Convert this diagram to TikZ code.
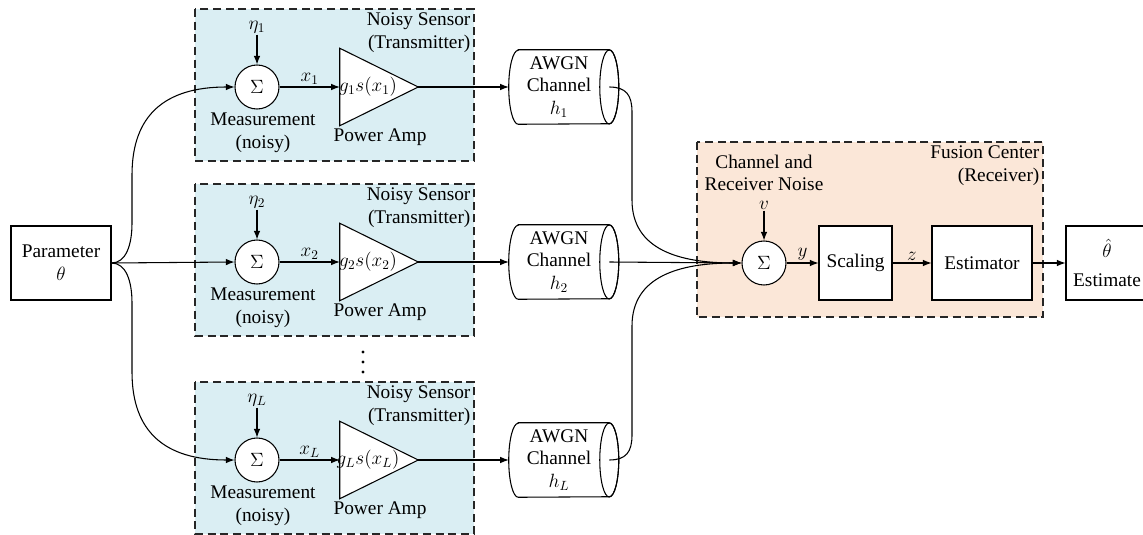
\documentclass[tikz,border=0pt]{standalone}
\usepackage{fontspec}
\setmainfont{Liberation Serif}
\newfontfamily\diagfont{Liberation Serif}
\usetikzlibrary{arrows.meta,calc}
\definecolor{sensorblue}{HTML}{DAEEF3}
\definecolor{fusionpeach}{HTML}{FBE7D8}
\tikzset{
  every node/.style={font=\diagfont\fontsize{14.5}{17}\selectfont},
  arr/.style={-{Latex[length=6.5pt,width=5pt]}, line width=0.8pt},
  plain/.style={line width=0.8pt},
  sensorbox/.style={draw=black!85, fill=sensorblue, dash pattern=on 6pt off 3.5pt, line width=0.8pt},
  fusionbox/.style={draw=black!85, fill=fusionpeach, dash pattern=on 6pt off 3.5pt, line width=0.8pt},
  sumnode/.style={circle, draw, fill=white, minimum size=33pt, inner sep=0pt, line width=0.8pt},
  blk/.style={rectangle, draw, fill=white, line width=0.8pt, align=center, minimum height=55.5pt, inner sep=1pt},
  chbox/.style={rectangle, minimum width=75pt, minimum height=55.5pt, align=center, inner sep=0pt},
  ampbox/.style={rectangle, minimum width=58.5pt, minimum height=57.75pt, inner sep=0pt},
  lbl/.style={align=center, inner sep=1pt},
  boxtitle/.style={anchor=north east, align=right, inner sep=2.5pt},
}
\begin{document}
\begin{tikzpicture}[x=0.75pt,y=-0.75pt]
\useasboundingbox (0,0) rectangle (1143,535);
\clip (0,0) rectangle (1143,535);

% fusion center box
\draw[fusionbox] (697,142) rectangle (1043,317);
\node[boxtitle] (ftitle) at (1043,142) {Fusion Center\\(Receiver)};

% sensor branches
\foreach \k/\ty/\sub in {1/9/1, 2/184/2, L/382/L}{
  \pgfmathsetmacro{\cy}{\ty+78}
  \pgfmathsetmacro{\by}{\ty+152}
  \draw[sensorbox] (195,\ty) rectangle (474,\by);
  \node[boxtitle] (title\k) at (474,\ty) {Noisy Sensor\\(Transmitter)};
  \node[sumnode] (s\k) at (257,\cy) {$\Sigma$};
  \node[lbl] (eta\k) at (257,\cy-60) {$\eta_{\sub}$};
  \draw[arr] (eta\k.south) -- (s\k.north);
  \node[lbl] (meas\k) at (263,\cy+46) {Measurement\\(noisy)};
  \node[ampbox] (amp\k) at (379,\cy) {};
  \draw[plain, fill=white] (amp\k.north west) -- (amp\k.east) -- (amp\k.south west) -- cycle;
  \node[lbl] (g\k) at (368,\cy) {$g_{\sub}s(x_{\sub})$};
  \node[lbl] (pa\k) at (380,\cy+50) {Power Amp};
  \draw[arr] (s\k.east) -- node[above, inner sep=1.5pt] {$x_{\sub}$} (amp\k.west);
  % channel cylinder
  \node[chbox] (ch\k) at (559,\cy) {};
  \draw[plain, fill=white] ($(ch\k.north west)+(9.5,0)$) -- (ch\k.north east)
     arc[start angle=-90, end angle=90, x radius=9.5, y radius=37]
     -- ($(ch\k.south west)+(9.5,0)$)
     arc[start angle=90, end angle=270, x radius=9.5, y radius=37] -- cycle;
  \draw[plain] (ch\k.east) ellipse[x radius=9.5, y radius=37];
  \node[lbl] (cht\k) at (559,\cy) {AWGN\\Channel\\$h_{\sub}$};
  \draw[arr] (amp\k.east) -- (ch\k.west);
}

% dots
\foreach \yy in {352,362,372} \fill (363,\yy) circle[radius=1.6];

% parameter
\node[blk, minimum width=75pt] (par) at (61,263) {Parameter\\$\theta$};
\draw[arr] (par.east) .. controls (126,263) and (132,245) .. (132,223) -- (132,175)
   .. controls (132,115) and (165,87) .. (s1.west);
\draw[arr] (par.east) -- (s2.west);
\draw[arr] (par.east) .. controls (126,263) and (132,281) .. (132,303) -- (132,372)
   .. controls (132,432) and (165,460) .. (sL.west);

% fusion center
\node[sumnode] (sF) at (764,263) {$\Sigma$};
\node[lbl] (v) at (764,205) {$v$};
\draw[arr] (v.south) -- (sF.north);
\node[lbl] (cr) at (764,173) {Channel and\\Receiver Noise};
\node[blk, minimum width=54.75pt] (scal) at (855.5,263) {Scaling};
\node[blk, minimum width=75pt] (est) at (982,263) {Estimator};
\node[blk, minimum width=61.5pt] (out) at (1107,263) {$\hat{\theta}$\\[5pt]Estimate};

\draw[arr] (ch1.east) .. controls (626,87) and (632,95) .. (632,112) -- (632,200)
   .. controls (632,250) and (680,263) .. (sF.west);
\draw[arr] (ch2.east) -- (sF.west);
\draw[arr] (chL.east) .. controls (626,460) and (632,452) .. (632,435) -- (632,326)
   .. controls (632,276) and (680,263) .. (sF.west);

\draw[arr] (sF.east) -- node[above, inner sep=1.5pt] {$y$} (scal.west);
\draw[arr] (scal.east) -- node[above, inner sep=1.5pt] {$z$} (est.west);
\draw[arr] (est.east) -- (out.west);
\end{tikzpicture}
\end{document}
